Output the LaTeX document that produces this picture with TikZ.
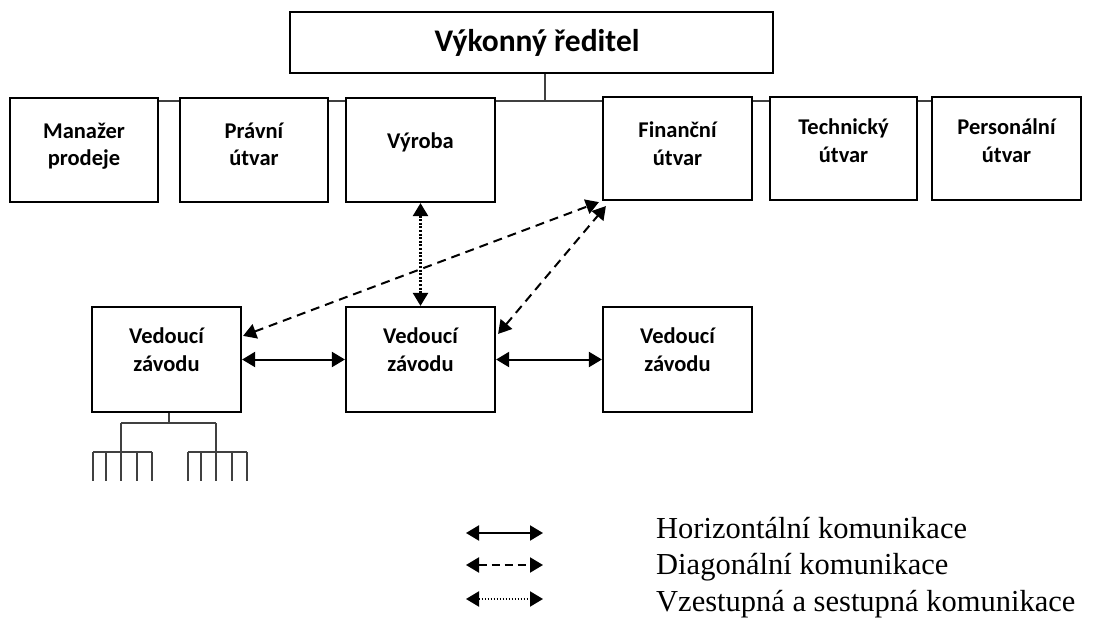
\documentclass[tikz,border=0pt]{standalone}
\usepackage{fontspec}
\setmainfont{Liberation Serif}
\newfontfamily\carlito{Carlito}
\usetikzlibrary{arrows.meta,calc}
\newcommand\mlines[1]{\begin{tabular}[t]{@{}c@{}}#1\end{tabular}}
\begin{document}
\begin{tikzpicture}[x=1pt,y=-1pt,
  box/.style={draw, line width=2.2pt, inner sep=0pt},
  lbl/.style={font=\carlito\bfseries\fontsize{22.5}{28}\selectfont, anchor=base, inner sep=0pt},
  toplbl/.style={font=\carlito\bfseries\fontsize{31.5}{36}\selectfont, anchor=base, inner sep=0pt},
  legtxt/.style={font=\fontsize{30.5}{36}\selectfont, anchor=base west, inner sep=0pt},
  conn/.style={line width=1.2pt, draw=black!75},
  arr/.style={line width=2pt, {Triangle[length=13pt,width=15pt]}-{Triangle[length=13pt,width=15pt]}},
  solidarr/.style={arr},
  dasharr/.style={arr, dash pattern=on 9pt off 6pt},
  dotarr/.style={arr, line width=2.4pt, dash pattern=on 2pt off 1.6pt}]
\useasboundingbox (0,0) rectangle (1099,623);

% top
\node[box, minimum width=483pt, minimum height=61pt] (top) at (531.5,42.5) {};
\node[toplbl] (ttop) at (537,52) {Výkonný ředitel};

% second row
\node[box, minimum width=148pt, minimum height=104pt] (man) at (84,150) {};
\node[box, minimum width=148pt, minimum height=104pt] (prav) at (254,150) {};
\node[box, minimum width=149pt, minimum height=104pt] (vyr) at (420.5,150) {};
\node[box, minimum width=149pt, minimum height=103pt] (fin) at (677.5,148.5) {};
\node[box, minimum width=147pt, minimum height=103pt] (tech) at (843.5,148.5) {};
\node[box, minimum width=149pt, minimum height=103pt] (pers) at (1006.5,148.5) {};

\node[lbl] (tman) at (84,138) {\mlines{Manažer\\prodeje}};
\node[lbl] (tprav) at (254,138) {\mlines{Právní\\útvar}};
\node[lbl] (tvyr) at (420.5,148) {Výroba};
\node[lbl] (tfin) at (677.5,137) {\mlines{Finanční\\útvar}};
\node[lbl] (ttech) at (843.5,135) {\mlines{Technický\\útvar}};
\node[lbl] (tpers) at (1006.5,135) {\mlines{Personální\\útvar}};

% bus
\coordinate (bus) at (545,101);
\draw[conn] (top.south -| bus) -- (bus);
\draw[conn] (man.east |- bus) -- (prav.west |- bus);
\draw[conn] (prav.east |- bus) -- (vyr.west |- bus);
\draw[conn] (vyr.east |- bus) -- (fin.west |- bus);
\draw[conn] (fin.east |- bus) -- (tech.west |- bus);
\draw[conn] (tech.east |- bus) -- (pers.west |- bus);

% lower row
\node[box, minimum width=149pt, minimum height=105pt] (v1) at (166.5,359.5) {};
\node[box, minimum width=149pt, minimum height=105pt] (v2) at (420.5,359.5) {};
\node[box, minimum width=149pt, minimum height=105pt] (v3) at (677.5,359.5) {};
\node[lbl] (tv1) at (166.5,343) {\mlines{Vedoucí\\závodu}};
\node[lbl] (tv2) at (420.5,343) {\mlines{Vedoucí\\závodu}};
\node[lbl] (tv3) at (677.5,343) {\mlines{Vedoucí\\závodu}};

% communication arrows
\draw[solidarr] (v1.east) -- (v2.west);
\draw[solidarr] (v2.east) -- (v3.west);
\draw[dotarr] (vyr.south) -- (v2.north);
\draw[dasharr] ($(v1.north east)+(1,30)$) -- ($(fin.south west)+(-3,1)$);
\draw[dasharr] ($(v2.north east)+(2,28)$) -- ($(fin.south west)+(4,5)$);

% sub-tree under v1
\coordinate (s0) at (169,423);
\coordinate (sa) at (121,423);
\coordinate (sb) at (216,423);
\draw[conn] (v1.south -| s0) -- (s0);
\draw[conn] (sa) -- (sb);
\coordinate (la) at (121,452);
\coordinate (lb) at (216,452);
\draw[conn] (sa) -- (la);
\draw[conn] (sb) -- (lb);
\coordinate (a1) at (93,452);
\coordinate (a5) at (152,452);
\coordinate (b1) at (188,452);
\coordinate (b5) at (247,452);
\draw[conn] (a1) -- (a5);
\draw[conn] (b1) -- (b5);
\foreach \xx in {93,106,121,137,152,188,201,216,232,247}
  \draw[conn] (\xx,452) -- (\xx,481);

% legend
\coordinate (l1a) at (466,533); \coordinate (l1b) at (543,533);
\coordinate (l2a) at (466,565); \coordinate (l2b) at (543,565);
\coordinate (l3a) at (466,599); \coordinate (l3b) at (543,599);
\draw[solidarr] (l1a) -- (l1b);
\draw[arr, dash pattern=on 8pt off 5pt] (l2a) -- (l2b);
\draw[arr, dash pattern=on 1.5pt off 1.5pt] (l3a) -- (l3b);
\node[legtxt] (lt1) at (656,538) {Horizontální komunikace};
\node[legtxt] (lt2) at (656,574) {Diagonální komunikace};
\node[legtxt] (lt3) at (656,611) {Vzestupná a sestupná komunikace};
\end{tikzpicture}
\end{document}
